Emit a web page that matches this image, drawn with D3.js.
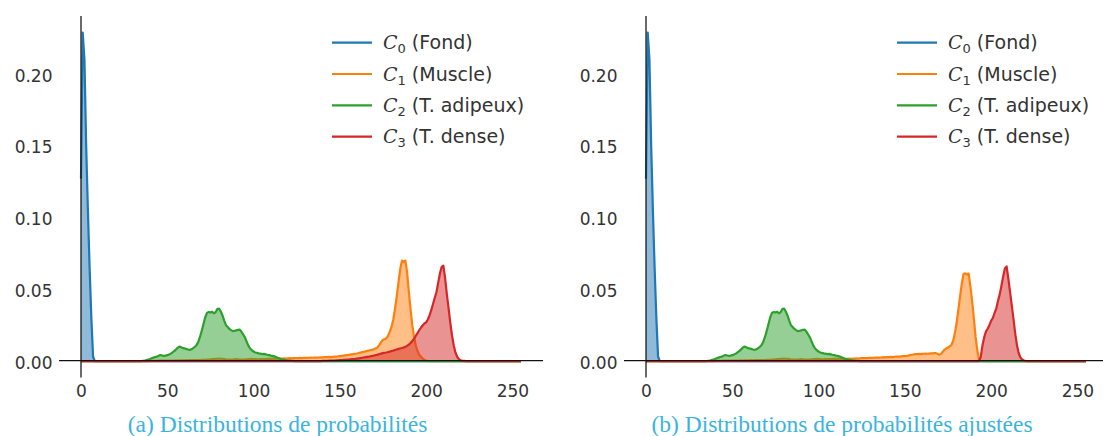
<!DOCTYPE html>
<html>
<head>
<meta charset="utf-8">
<script src="https://cdn.jsdelivr.net/npm/d3@7"></script>
<style>
  html, body { margin: 0; padding: 0; background: #fff; }
  svg { display: block; }
</style>
</head>
<body>
<svg id="chart" width="1103" height="436"></svg>
<script>
// ---------------- DATA ----------------
const xTicks = [0, 50, 100, 150, 200, 250];
const yTicks = [0, 0.05, 0.10, 0.15, 0.20];
const nBins = 256; // intensities 0..255

const legendNames = ["(Fond)", "(Muscle)", "(T. adipeux)", "(T. dense)"];
const legendSubs = ["0", "1", "2", "3"];
const captions = ["(a) Distributions de probabilités", "(b) Distributions de probabilités ajustées"];
const colors = ["#1f77b4", "#ff7f0e", "#2ca02c", "#d62728"];

// C0 (Fond) starts at 0
const c0Start = 0;
const c0Values = [0.127, 0.229, 0.210, 0.150, 0.105, 0.065, 0.030, 0.003, 0.000];

// C2 (T. adipeux) starts at 36
const c2Start = 36;
const c2Values = [
  0.0002, 0.0004, 0.0007, 0.0010, 0.0014, 0.0019, 0.0024, 0.0028, 0.0031, 0.0037,
  0.0042, 0.0039, 0.0036, 0.0038, 0.0041, 0.0046, 0.0052, 0.0060, 0.0069, 0.0080,
  0.0092, 0.0101, 0.0097, 0.0090, 0.0088, 0.0085, 0.0081, 0.0078, 0.0082, 0.0090,
  0.0100, 0.0112, 0.0135, 0.0170, 0.0212, 0.0258, 0.0305, 0.0336, 0.0342, 0.0338,
  0.0344, 0.0333, 0.0340, 0.0362, 0.0366, 0.0345, 0.0318, 0.0282, 0.0250, 0.0238,
  0.0224, 0.0216, 0.0209, 0.0210, 0.0214, 0.0218, 0.0219, 0.0204, 0.0185, 0.0165,
  0.0136, 0.0108, 0.0088, 0.0076, 0.0066, 0.0060, 0.0057, 0.0054, 0.0052, 0.0049,
  0.0050, 0.0047, 0.0044, 0.0042, 0.0038, 0.0036, 0.0033, 0.0028, 0.0023, 0.0018,
  0.0014, 0.0011, 0.0008, 0.0006, 0.0004, 0.0003, 0.0002, 0.0001
];

// C1 (Muscle), panel (a), starts at 40
const c1aStart = 40;
const c1aValues = [
  0.0001, 0.0001, 0.0002, 0.0002, 0.0002, 0.0003, 0.0003, 0.0003, 0.0003, 0.0004,
  0.0004, 0.0003, 0.0004, 0.0004, 0.0004, 0.0005, 0.0004, 0.0005, 0.0005, 0.0005,
  0.0005, 0.0006, 0.0005, 0.0006, 0.0006, 0.0006, 0.0007, 0.0006, 0.0007, 0.0007,
  0.0008, 0.0008, 0.0009, 0.0010, 0.0011, 0.0012, 0.0013, 0.0014, 0.0015, 0.0016,
  0.0017, 0.0016, 0.0015, 0.0014, 0.0012, 0.0011, 0.0010, 0.0010, 0.0011, 0.0012,
  0.0013, 0.0012, 0.0011, 0.0010, 0.0010, 0.0011, 0.0012, 0.0013, 0.0014, 0.0015,
  0.0014, 0.0013, 0.0012, 0.0012, 0.0013, 0.0014, 0.0013, 0.0014, 0.0015, 0.0015,
  0.0016, 0.0016, 0.0017, 0.0016, 0.0017,
  0.0018, 0.0017, 0.0018, 0.0019, 0.0018, 0.0019, 0.0020, 0.0019, 0.0020, 0.0021,
  0.0020, 0.0021, 0.0022, 0.0021, 0.0022, 0.0023, 0.0022, 0.0023, 0.0024, 0.0023,
  0.0024, 0.0025, 0.0024, 0.0025, 0.0026, 0.0026, 0.0027, 0.0027, 0.0028, 0.0029,
  0.0028, 0.0030, 0.0031, 0.0032, 0.0033, 0.0035, 0.0036, 0.0038, 0.0040, 0.0042,
  0.0043, 0.0045, 0.0047, 0.0049, 0.0051, 0.0053, 0.0056, 0.0059, 0.0062, 0.0065,
  0.0068, 0.0071, 0.0074, 0.0077, 0.0080, 0.0084, 0.0089, 0.0098, 0.0115, 0.0135,
  0.0148, 0.0152, 0.0160, 0.0178, 0.0205, 0.0240, 0.0290, 0.0365, 0.0450, 0.0550,
  0.0640, 0.0700, 0.0692, 0.0700, 0.0620, 0.0480, 0.0360, 0.0250, 0.0170, 0.0110,
  0.0070, 0.0045, 0.0030, 0.0018, 0.0008, 0.0003
];

// C3 (T. dense), panel (a), starts at 140
const c3aStart = 140;
const c3aValues = [
  0.0001, 0.0001, 0.0002, 0.0002, 0.0003, 0.0003, 0.0004, 0.0004, 0.0005, 0.0005,
  0.0006, 0.0007, 0.0008, 0.0009, 0.0010, 0.0011, 0.0012, 0.0013, 0.0014, 0.0015,
  0.0017, 0.0019, 0.0021, 0.0023, 0.0025, 0.0027, 0.0029, 0.0031, 0.0034, 0.0036,
  0.0039, 0.0042, 0.0045, 0.0049, 0.0052, 0.0055, 0.0058, 0.0060, 0.0063, 0.0066,
  0.0070, 0.0073, 0.0077, 0.0081, 0.0085, 0.0088, 0.0091, 0.0095, 0.0100, 0.0106,
  0.0115, 0.0126, 0.0140, 0.0155, 0.0175, 0.0195, 0.0215, 0.0232, 0.0248, 0.0262,
  0.0270, 0.0290, 0.0318, 0.0355, 0.0398, 0.0440, 0.0480, 0.0545, 0.0610, 0.0655,
  0.0665, 0.0580, 0.0470, 0.0370, 0.0270, 0.0180, 0.0110, 0.0060, 0.0030, 0.0014,
  0.0005, 0.0002, 0.0001
];

// C1 (Muscle), panel (b), starts at 40
const c1bStart = 40;
const c1bValues = [
  0.0001, 0.0001, 0.0002, 0.0002, 0.0002, 0.0003, 0.0003, 0.0003, 0.0003, 0.0004,
  0.0004, 0.0003, 0.0004, 0.0004, 0.0004, 0.0005, 0.0004, 0.0005, 0.0005, 0.0005,
  0.0005, 0.0006, 0.0005, 0.0006, 0.0006, 0.0006, 0.0007, 0.0006, 0.0007, 0.0007,
  0.0008, 0.0008, 0.0009, 0.0010, 0.0011, 0.0012, 0.0013, 0.0014, 0.0015, 0.0016,
  0.0017, 0.0016, 0.0015, 0.0014, 0.0012, 0.0011, 0.0010, 0.0010, 0.0011, 0.0012,
  0.0013, 0.0012, 0.0011, 0.0010, 0.0010, 0.0011, 0.0012, 0.0013, 0.0014, 0.0015,
  0.0014, 0.0013, 0.0012, 0.0012, 0.0013, 0.0014, 0.0013, 0.0014, 0.0015, 0.0015,
  0.0016, 0.0016, 0.0017, 0.0016, 0.0016,
  0.0016, 0.0015, 0.0016, 0.0017, 0.0016, 0.0017, 0.0018, 0.0019, 0.0018, 0.0019,
  0.0020, 0.0021, 0.0020, 0.0021, 0.0022, 0.0023, 0.0022, 0.0023, 0.0024, 0.0025,
  0.0024, 0.0025, 0.0026, 0.0027, 0.0026, 0.0027, 0.0028, 0.0029, 0.0028, 0.0030,
  0.0031, 0.0032, 0.0031, 0.0033, 0.0034, 0.0035, 0.0036, 0.0038, 0.0041, 0.0044,
  0.0046, 0.0048, 0.0049, 0.0050, 0.0049, 0.0050, 0.0051, 0.0052, 0.0051, 0.0052,
  0.0053, 0.0054, 0.0055, 0.0055, 0.0050, 0.0043, 0.0050, 0.0065, 0.0080, 0.0088,
  0.0095, 0.0102, 0.0112, 0.0140, 0.0195, 0.0265, 0.0355, 0.0448, 0.0540, 0.0605,
  0.0612, 0.0603, 0.0610, 0.0520, 0.0420, 0.0300, 0.0170, 0.0075, 0.0010, 0.0000
];

// C3 (T. dense), panel (b), starts at 193
const c3bStart = 193;
const c3bValues = [
  0.0000, 0.0030, 0.0110, 0.0165, 0.0205, 0.0225, 0.0250, 0.0280, 0.0300, 0.0335,
  0.0365, 0.0420, 0.0465, 0.0525, 0.0590, 0.0645, 0.0660, 0.0575, 0.0480, 0.0385,
  0.0290, 0.0190, 0.0110, 0.0055, 0.0025, 0.0011, 0.0004, 0.0001, 0.0000
];

// ---------------- BUILD ----------------
function fullSeries(start, values) {
  // 256 bins: the listed values at their bins, zero elsewhere (as in the picture)
  return d3.range(nBins).map(i => ({
    x: i,
    v: (i >= start && i < start + values.length) ? values[i - start] : 0
  }));
}

const panels = [
  {
    left: 59, right: 543, yAxisLabelGap: 28.5, legendX: 332, captionX: 277.5,
    series: [fullSeries(c0Start, c0Values), fullSeries(c1aStart, c1aValues),
             fullSeries(c2Start, c2Values), fullSeries(c3aStart, c3aValues)]
  },
  {
    left: 624, right: 1108, yAxisLabelGap: 28.5, legendX: 897, captionX: 842,
    series: [fullSeries(c0Start, c0Values), fullSeries(c1bStart, c1bValues),
             fullSeries(c2Start, c2Values), fullSeries(c3bStart, c3bValues)]
  }
];

const svg = d3.select("#chart");
const plotTop = 16, plotBottom = 377.5;
const xDomain = [-12.75, 267.75];
const yDomain = [-0.01145, 0.2405];

panels.forEach((p, pi) => {
  const x = d3.scaleLinear().domain(xDomain).range([p.left, p.right]);
  const y = d3.scaleLinear().domain(yDomain).range([plotBottom, plotTop]);
  const g = svg.append("g");

  const area = d3.area().x(d => x(d.x)).y0(y(0)).y1(d => y(d.v));
  const line = d3.line().x(d => x(d.x)).y(d => y(d.v));

  p.series.forEach((s, si) => {
    g.append("path").attr("d", area(s))
      .attr("fill", colors[si]).attr("fill-opacity", 0.5).attr("stroke", "none");
    g.append("path").attr("d", line(s))
      .attr("fill", "none").attr("stroke", colors[si]).attr("stroke-width", 2.2)
      .attr("stroke-linejoin", "round");
  });

  // Spines through the origin
  g.append("line")
    .attr("x1", x(xDomain[0])).attr("x2", x(xDomain[1]))
    .attr("y1", y(0) - 0.5).attr("y2", y(0) - 0.5)
    .attr("stroke", "#111").attr("stroke-width", 1.25);
  g.append("line")
    .attr("x1", x(0)).attr("x2", x(0))
    .attr("y1", y(yDomain[1])).attr("y2", y(yDomain[0]))
    .attr("stroke", "#111").attr("stroke-width", 1.25);

  // Axes (labels only)
  const xAxis = d3.axisBottom(x).tickValues(xTicks).tickSize(0).tickPadding(24).tickFormat(d3.format("d"));
  const gx = g.append("g").attr("transform", `translate(0,${y(0)})`).call(xAxis);
  gx.select(".domain").remove();
  gx.selectAll("text").attr("font-family", "DejaVu Sans").attr("font-size", 17).attr("fill", "#333");

  const yAxis = d3.axisLeft(y).tickValues(yTicks).tickSize(0).tickPadding(p.yAxisLabelGap).tickFormat(d3.format(".2f"));
  const gy = g.append("g").attr("transform", `translate(${x(0)},0)`).call(yAxis);
  gy.select(".domain").remove();
  gy.selectAll("text").attr("font-family", "DejaVu Sans").attr("font-size", 17).attr("fill", "#333").attr("dy", "0.42em");

  // Legend
  const lg = g.append("g");
  legendNames.forEach((name, i) => {
    const ly = 42.7 + i * 31.3;
    lg.append("line").attr("x1", p.legendX).attr("x2", p.legendX + 40)
      .attr("y1", ly).attr("y2", ly)
      .attr("stroke", colors[i]).attr("stroke-width", 2.2);
    const t = lg.append("text").attr("x", p.legendX + 51).attr("y", ly + 6.5)
      .attr("font-family", "DejaVu Sans").attr("font-size", 19).attr("fill", "#333");
    t.append("tspan").attr("font-family", "DejaVu Serif").attr("font-style", "italic").text("C");
    t.append("tspan").attr("font-size", 13).attr("dy", 4).text(legendSubs[i]);
    t.append("tspan").attr("dy", -4).text(" " + name);
  });

  // Caption
  svg.append("text").attr("x", p.captionX).attr("y", 432)
    .attr("text-anchor", "middle")
    .attr("font-family", "Liberation Serif").attr("font-size", 23.5)
    .attr("fill", "#3ab4de").text(captions[pi]);
});
</script>
</body>
</html>
